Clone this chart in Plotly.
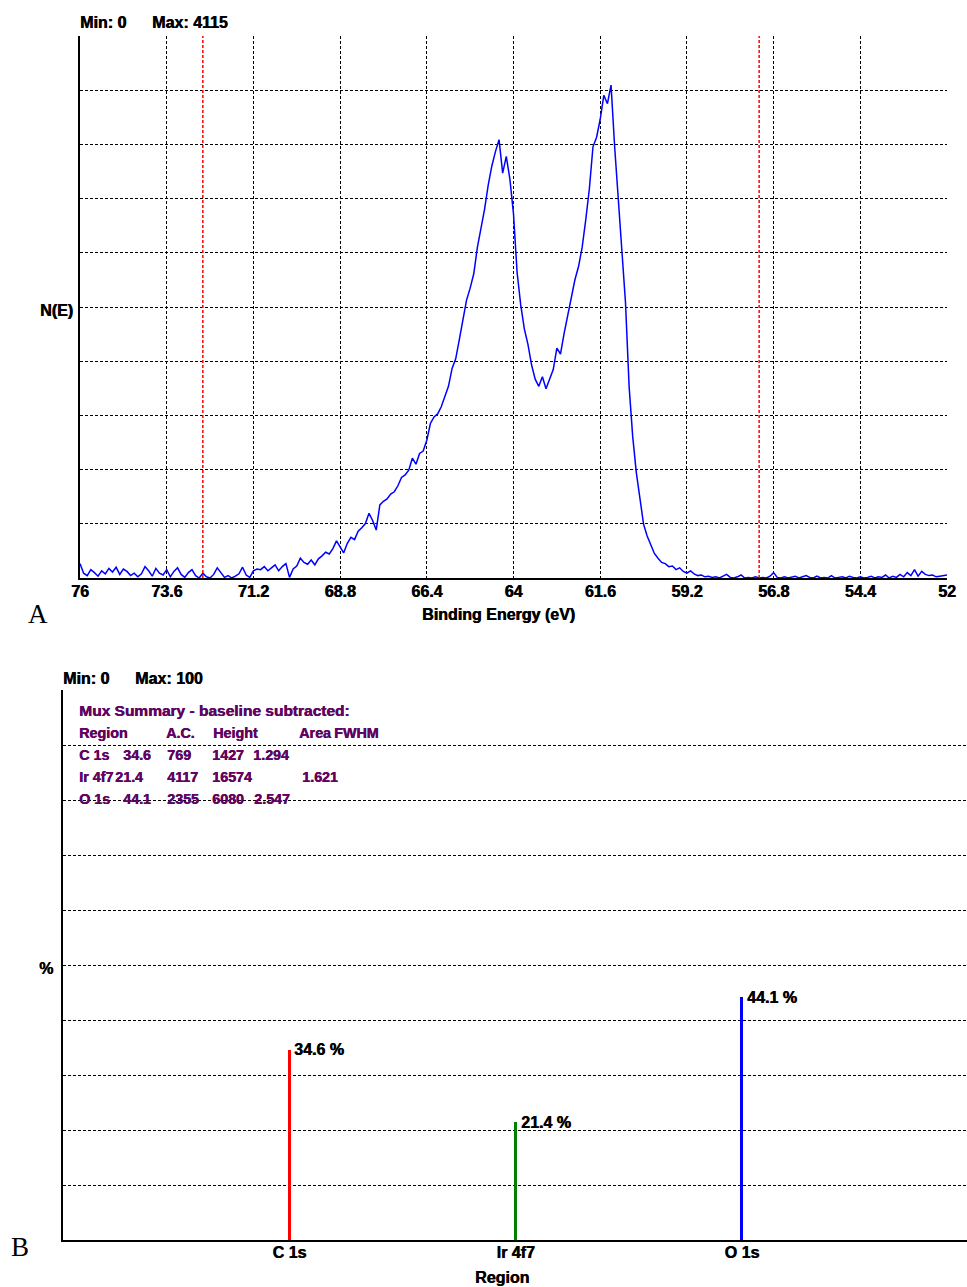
import plotly.graph_objects as go

# ---------------------------------------------------------------
# Panel A: Ir 4f region, N(E) counts on a 0.1 eV binding-energy grid
# running from 76.0 eV down to 52.0 eV
# ---------------------------------------------------------------
be_start = 76.0
be_step = 0.1
counts = [
    120, 40, 20, 70, 45, 15, 60, 35, 80, 50,            # 76.0 - 75.1
    90, 30, 75, 55, 20, 40, 10, 35, 95, 60,             # 75.0 - 74.1
    15, 80, 40, 25, 70, 10, 55, 85, 30, 5,              # 74.0 - 73.1
    45, 70, 20, 0, 40, 10, 0, 30, 85, 45,               # 73.0 - 72.1
    5, 20, 0, 15, 35, 90, 25, 5, 60, 75,                # 72.0 - 71.1
    70, 95, 60, 85, 110, 60, 95, 120, 5, 75,            # 71.0 - 70.1
    100, 165, 130, 115, 150, 110, 160, 185, 215, 200,   # 70.0 - 69.1
    245, 310, 255, 210, 290, 340, 320, 390, 420, 455,   # 69.0 - 68.1
    540, 480, 400, 610, 640, 660, 700, 720, 770, 840,   # 68.0 - 67.1
    860, 900, 1000, 950, 1040, 1060, 1150, 1290, 1345, 1370,   # 67.0 - 66.1
    1430, 1520, 1600, 1750, 1830, 1990, 2150, 2320, 2420, 2540,  # 66.0 - 65.1
    2760, 2920, 3080, 3280, 3440, 3560, 3660, 3380, 3520, 3330,  # 65.0 - 64.1
    3040, 2550, 2280, 2080, 1950, 1780, 1660, 1600, 1680, 1580,  # 64.0 - 63.1
    1660, 1740, 1920, 1870, 2040, 2190, 2340, 2490, 2600, 2760,  # 63.0 - 62.1
    2990, 3250, 3600, 3680, 3830, 4030, 3960, 4115, 3600, 3150,  # 62.0 - 61.1
    2680, 2300, 1600, 1180, 880, 650, 450, 350, 270, 205,        # 61.0 - 60.1
    165, 130, 120, 95, 100, 70, 85, 55, 40, 60,         # 60.0 - 59.1
    35, 20, 25, 10, 15, 5, 10, 0, 15, 30,               # 59.0 - 58.1
    5, 0, 10, 25, 0, 5, 0, 10, 0, 5,                    # 58.0 - 57.1
    0, 15, 45, 5, 0, 10, 0, 5, 15, 0,                   # 57.0 - 56.1
    10, 20, 5, 0, 15, 0, 5, 0, 20, 0,                   # 56.0 - 55.1
    5, 10, 0, 15, 5, 0, 10, 0, 5, 15,                   # 55.0 - 54.1
    0, 10, 5, 25, 0, 15, 5, 30, 10, 45,                 # 54.0 - 53.1
    20, 70, 15, 55, 30, 20, 25, 10, 15, 20,             # 53.0 - 52.1
    25,                                                 # 52.0
]
energy = [round(be_start - be_step * i, 1) for i in range(len(counts))]

be_ticks = [76, 73.6, 71.2, 68.8, 66.4, 64, 61.6, 59.2, 56.8, 54.4, 52]
be_tick_text = ["76", "73.6", "71.2", "68.8", "66.4", "64", "61.6",
                "59.2", "56.8", "54.4", "52"]
baseline_limits = [72.6, 57.2]
n_e_top = 4525

# ---------------------------------------------------------------
# Panel B: atomic concentration per region
# ---------------------------------------------------------------
regions = ["C 1s", "Ir 4f7", "O 1s"]
atomic_pct = [34.6, 21.4, 44.1]
region_colors = ["#FF0000", "#008000", "#0000FF"]

summary_title = "Mux Summary - baseline subtracted:"
summary_header = ["Region", "A.C.", "Height", "Area", "FWHM"]
summary_rows = [
    ["C 1s", "34.6", "769", "1427", "1.294"],
    ["Ir 4f7", "21.4", "4117", "16574", "1.621"],
    ["O 1s", "44.1", "2355", "6080", "2.547"],
]

# ---------------------------------------------------------------
# Page geometry (pixels)
# ---------------------------------------------------------------
W, H = 967, 1287


def px(x, y):
    return x / W, 1 - y / H


SANS = "Liberation Sans, Arial, sans-serif"
SERIF = "Liberation Serif, Times New Roman, serif"
GRID_DASH = "3px,2px"
HEAVY = "0.6px 0px 0px #000000"
bold16 = dict(family=SANS, size=16, color="black", weight="bold", shadow=HEAVY)
purple = "#680068"

fig = go.Figure()

fig.add_trace(go.Scatter(
    x=energy, y=counts, mode="lines",
    line=dict(color="#0000FF", width=1.5),
    xaxis="x", yaxis="y", showlegend=False, hoverinfo="skip",
))

fig.add_trace(go.Bar(
    x=regions, y=atomic_pct, marker=dict(color=region_colors, line=dict(width=0)),
    width=0.013, xaxis="x2", yaxis="y2", showlegend=False, hoverinfo="skip",
))

# baseline region markers on the spectrum
for be in baseline_limits:
    fig.add_shape(type="line", xref="x", yref="y domain",
                  x0=be, x1=be, y0=0, y1=1,
                  line=dict(color="#FF0000", width=1.5, dash=GRID_DASH))

ax_a_x0, ax_a_x1 = 80, 947
ax_a_y0, ax_a_y1 = 36, 578
ax_b_x0, ax_b_x1 = 63, 967
ax_b_y0, ax_b_y1 = 690, 1240

fig.update_layout(
    width=W, height=H, autosize=False,
    margin=dict(l=0, r=0, t=0, b=0, pad=0, autoexpand=False),
    paper_bgcolor="white", plot_bgcolor="white",
    bargap=0,
    xaxis=dict(
        domain=[ax_a_x0 / W, ax_a_x1 / W], anchor="y",
        range=[76, 52], tickvals=be_ticks, ticktext=be_tick_text,
        showgrid=True, gridcolor="black", gridwidth=1, griddash=GRID_DASH,
        showline=True, linecolor="black", linewidth=2,
        ticks="", tickfont=bold16, ticklabelstandoff=-2,
        zeroline=False, automargin=False,
    ),
    yaxis=dict(
        domain=[1 - ax_a_y1 / H, 1 - ax_a_y0 / H], anchor="x",
        range=[0, n_e_top], tickvals=[n_e_top * i / 10 for i in range(11)],
        showticklabels=False, ticks="",
        showgrid=True, gridcolor="black", gridwidth=1, griddash=GRID_DASH,
        showline=True, linecolor="black", linewidth=2, zeroline=False,
        automargin=False,
    ),
    xaxis2=dict(
        domain=[ax_b_x0 / W, ax_b_x1 / W], anchor="y2",
        type="category", range=[-1, 2.995],
        showgrid=False, showline=True, linecolor="black", linewidth=2,
        ticks="", tickfont=bold16, ticklabelstandoff=-3,
        zeroline=False, automargin=False,
    ),
    yaxis2=dict(
        domain=[1 - ax_b_y1 / H, 1 - ax_b_y0 / H], anchor="x2",
        range=[0, 100], tickvals=list(range(0, 101, 10)),
        showticklabels=False, ticks="",
        showgrid=True, gridcolor="black", gridwidth=1, griddash=GRID_DASH,
        showline=True, linecolor="black", linewidth=2, zeroline=False,
        automargin=False,
    ),
)

ann = []


def text_at(x, y, text, font, xanchor="left"):
    xp, yp = px(x, y)
    ann.append(dict(x=xp, y=yp, xref="paper", yref="paper", text=text,
                    showarrow=False, xanchor=xanchor, yanchor="middle",
                    font=font, borderpad=0))


# Panel A header and titles
text_at(79, 22, "Min: 0", bold16)
text_at(151, 22, f"Max: {max(counts)}", bold16)
text_at(56, 310, "N(E)", bold16, "center")
text_at(498, 615, "Binding Energy (eV)", bold16, "center")
text_at(38, 614, "A", dict(family=SERIF, size=27, color="black"), "center")

# Panel B header and titles
text_at(62, 678, "Min: 0", bold16)
text_at(134, 678, "Max: 100", bold16)
text_at(46, 968, "%", bold16, "center")
text_at(502, 1277, "Region", bold16, "center")
text_at(20, 1247, "B", dict(family=SERIF, size=27, color="black"), "center")

# Summary table
tshadow = "0.5px 0px 0px #2a002a"
title_font = dict(family=SANS, size=15.5, color=purple, weight="bold", shadow=tshadow)
tfont = dict(family=SANS, size=14.3, color=purple, weight="bold", shadow=tshadow)
text_at(78, 711, summary_title, title_font)
header_x = [78, 165, 212, 298, 333]
for xx, tok in zip(header_x, summary_header):
    text_at(xx, 733, tok, tfont)
row_x = [
    [78, 122, 166, 211, 252],
    [78, 114, 166, 211, 301],
    [78, 122, 166, 211, 253],
]
row_y = [755, 777, 799]
for xs, yy, row in zip(row_x, row_y, summary_rows):
    for xx, tok in zip(xs, row):
        text_at(xx, yy, tok, tfont)

# value labels on the concentration bars
for reg, pct in zip(regions, atomic_pct):
    ann.append(dict(x=reg, y=pct, xref="x2", yref="y2", text=f"{pct} %",
                    showarrow=False, xanchor="left", yanchor="middle",
                    xshift=4, font=bold16, borderpad=0))

fig.update_layout(annotations=ann)

fig.write_html("out.html", config={"responsive": False})
